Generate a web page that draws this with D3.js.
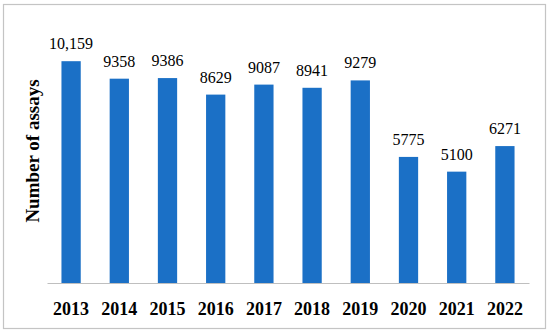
<!DOCTYPE html>
<html lang="en">
<head>
  <meta charset="utf-8">
  <title>Number of assays</title>
  <script src="https://cdn.jsdelivr.net/npm/d3@7"></script>
  <style>
    body { margin: 0; background: #fff; }
    text { font-family: "Palatino Linotype", "Book Antiqua", "Liberation Serif", "DejaVu Serif", serif; fill: #000; }
  </style>
</head>
<body>
  <svg class="chart"></svg>
  <script>
    // chart data
    var years = ["2013", "2014", "2015", "2016", "2017", "2018", "2019", "2020", "2021", "2022"];
    var assays = [10159, 9358, 9386, 8629, 9087, 8941, 9279, 5775, 5100, 6271];
    var valueLabels = ["10,159", "9358", "9386", "8629", "9087", "8941", "9279", "5775", "5100", "6271"];

    var w = 550, h = 334;
    var plotLeft = 47, plotRight = 529, plotBase = 283, plotTop = 21;

    var svg = d3.select("svg")
      .attr("width", w)
      .attr("height", h);

    // outer frame
    svg.append("rect")
      .attr("x", 3.5).attr("y", 4.5)
      .attr("width", 542).attr("height", 324)
      .attr("fill", "none")
      .attr("stroke", "#c4c4c4")
      .attr("stroke-width", 1.2);

    var x = d3.scaleBand()
      .domain(years)
      .range([plotLeft, plotRight])
      .paddingInner(0.6)
      .paddingOuter(0.3);

    var y = d3.scaleLinear()
      .domain([0, 12000])
      .range([plotBase, plotTop]);

    // bars
    svg.selectAll("rect.bar")
      .data(assays)
      .enter()
      .append("rect")
      .attr("class", "bar")
      .attr("x", function(d, i) { return x(years[i]); })
      .attr("y", function(d) { return y(d); })
      .attr("width", x.bandwidth())
      .attr("height", function(d) { return plotBase - y(d); })
      .attr("fill", "#1b70c6");

    // value labels
    svg.selectAll("text.val")
      .data(assays)
      .enter()
      .append("text")
      .attr("class", "val")
      .attr("x", function(d, i) { return x(years[i]) + x.bandwidth() / 2; })
      .attr("y", function(d) { return y(d) - 12; })
      .attr("text-anchor", "middle")
      .style("font-size", "16px")
      .text(function(d, i) { return valueLabels[i]; });

    // x axis
    var xAxis = d3.axisBottom(x).tickSize(0).tickPadding(20);
    var gx = svg.append("g")
      .attr("transform", "translate(0," + plotBase + ")")
      .call(xAxis);
    gx.select(".domain").attr("stroke", "#bfbfbf").attr("stroke-width", 1.2);
    gx.selectAll("text")
      .style("font-size", "18px")
      .style("font-weight", "bold")
      .attr("dy", "0.71em")
      .attr("y", 19);

    // y axis title
    svg.append("text")
      .attr("transform", "translate(39,151) rotate(-90)")
      .attr("text-anchor", "middle")
      .style("font-size", "19px")
      .style("font-weight", "bold")
      .text("Number of assays");
  </script>
</body>
</html>
